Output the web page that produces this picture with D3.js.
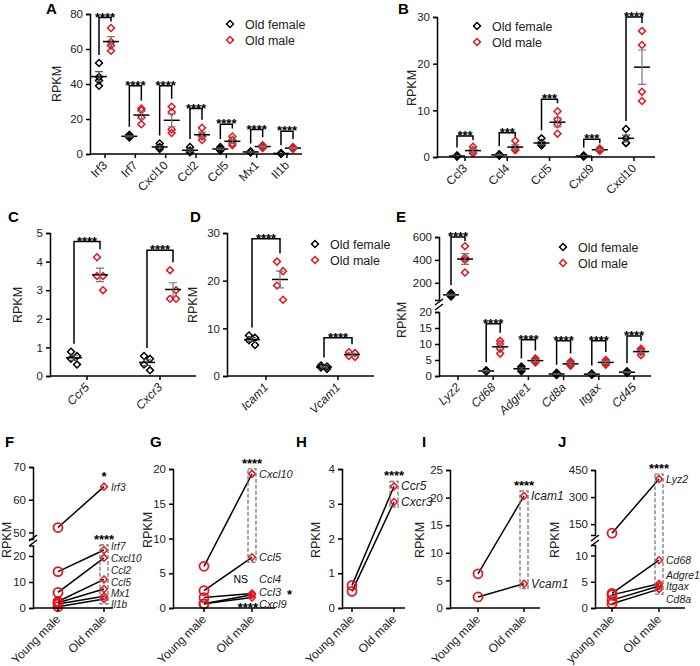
<!DOCTYPE html>
<html><head><meta charset="utf-8">
<script src="https://cdn.jsdelivr.net/npm/d3@7"></script>
<style>body{margin:0;background:#fff}svg{font-family:"Liberation Sans",Arial,sans-serif}</style>
</head><body><svg id="c" width="700" height="666"></svg>
<script>
// ---------- DATA ----------
const A_genes=["Irf3","Irf7","Cxcl10","Ccl2","Ccl5","Mx1","Il1b"];
const A_female=[[52,44,42,39],[11,10,9.5,10],[6,4,3,3],[4,2,1,1.5],[4,3,2.5,2],[1.5,1.2,1,1],[0.5,0.3,0.2,0.3]];
const A_male=[[72,64,62,59],[26,25,21,17],[27,24,14,12],[15,11,10,8],[10,8,6,5],[5,4.5,4,3.5],[4,3.5,3,3]];
const A_top=[78,39,39,26,17,14,13];
const A_stars=["****","****","****","****","****","****","****"];
const A_ticks=[0,20,40,60,80];

const B_genes=["Ccl3","Ccl4","Ccl5","Cxcl9","Cxcl10"];
const B_female=[[0.2,0.3,0.1,0.2],[0.5,0.4,0.3,0.6],[4,3,2.5,2.5],[0.3,0.2,0.2,0.1],[6,4,3,3]];
const B_male=[[2.2,1.5,1,0.8],[3.5,2,1.5,1.5],[9.8,8,7,5],[1.8,1.6,1.5,1.3],[27,24,14,12]];
const B_top=[4.5,5.2,12.4,3.8,30];
const B_stars=["***","***","***","***","****"];
const B_ticks=[0,10,20,30];

const C_genes=["Ccr5","Cxcr3"];
const C_female=[[0.85,0.7,0.6,0.4],[0.7,0.6,0.4,0.2]];
const C_male=[[4.15,3.5,3.5,3.0],[3.7,3.0,2.7,2.7]];
const C_top=[4.7,4.4];
const C_stars=["****","****"];
const C_ticks=[0,1,2,3,4,5];

const D_genes=["Icam1","Vcam1"];
const D_female=[[8.5,8,7.5,6.5],[2.2,2,1.8,1.5]];
const D_male=[[24,22,19,16],[5,4.8,4.2,4]];
const D_top=[28.8,8];
const D_stars=["****","****"];
const D_ticks=[0,10,20,30];

const E_genes=["Lyz2","Cd68","Adgre1","Cd8a","Itgax","Cd45"];
const E_female=[[110,100,90,80],[1.8,1.6,1.5,1.4],[3,2.5,2,1.5],[1,0.7,0.5,0.3],[0.8,0.6,0.5,0.4],[1.5,1.2,1,1]];
const E_male=[[520,420,400,290],[11,10,8.5,7],[5.5,5,4.5,4.2],[4.5,4,3.5,3.2],[5,4.5,4,3.5],[8.5,8,7.5,6.5]];
const E_top=[600,16.3,11.3,11,11,12.5];
const E_stars=["****","****","****","****","****","****"];
const E_ticksLow=[0,5,10,15,20], E_ticksHigh=[200,400,600];

const legendLabels=["Old female","Old male"];
const groups2=["Young male","Old male"], groupsJ=["young male","Old male"];

const F_genes=["Irf3","Irf7","Cxcl10","Ccl2","Ccl5","Mx1","Il1b"];
const F_young=[51.5,14,6,2.5,2,1.5,0.5];
const F_old=[64,22.3,19.3,11,7.3,4.5,3.5];
const F_labelY=[64,23.8,19.3,14.5,10,5.7,1.4];
const F_ticksLow=[0,10,20], F_ticksHigh=[50,60,70];

const G_genes=["Cxcl10","Ccl5","Ccl4","Ccl3","Cxcl9"];
const G_young=[6,2.5,1.5,0.6,0.6];
const G_old=[19.3,7.3,2.1,1.9,1.5];
const G_labelY=[19.3,7.3,4.2,2.3,0.6];
const G_ticks=[0,5,10,15,20];

const H_genes=["Ccr5","Cxcr3"];
const H_young=[0.65,0.48];
const H_old=[3.5,3.05];
const H_ticks=[0,1,2,3,4];

const I_genes=["Icam1","Vcam1"];
const I_young=[6.2,2];
const I_old=[20.3,4.4];
const I_ticks=[0,5,10,15,20,25];

const J_genes=["Lyz2","Cd68","Adgre1","Itgax","Cd8a"];
const J_young=[100,2.8,2.5,1.5,0.8];
const J_old=[400,9.1,4.6,4.2,3.6];
const J_labelY=[400,9.1,6.3,4.1,1.8];
const J_ticksLow=[0,5,10], J_ticksHigh=[150,300,450];

// ---------- DRAW ----------
const svg=d3.select("#c");
const RED="#e3151e";
const diamond=d3.symbol(d3.symbolSquare,24);

function brokenY(lo,hi){
  const sl=d3.scaleLinear().domain(lo.d).range(lo.r);
  if(!hi) return {f:v=>sl(v),sl};
  const sh=d3.scaleLinear().domain(hi.d).range(hi.r);
  return {f:v=>v>=hi.d[0]?sh(v):sl(v),sl,sh};
}
function yAxis(g,x,scale,ticks){
  const a=g.append("g").attr("transform",`translate(${x},0)`)
    .call(d3.axisLeft(scale).tickValues(ticks).tickFormat(d3.format("~g")).tickSizeOuter(0).tickSize(4));
  a.select(".domain").attr("stroke-width",1.5);
  a.selectAll(".tick line").attr("stroke-width",1.5);
  a.selectAll("text").attr("font-size",11.5).attr("fill","#222");
}
function breakMark(g,x,y){
  g.append("path").attr("d",`M${x-4},${y+3}L${x+4},${y-3}M${x-4},${y+8}L${x+4},${y+2}`)
   .attr("stroke","#000").attr("stroke-width",1.5);
}
function xAxis(g,x0,x1,y,xs,labels,italic){
  g.append("line").attr("x1",x0).attr("x2",x1).attr("y1",y).attr("y2",y).attr("stroke","#000").attr("stroke-width",1.5);
  labels.forEach(l=>{
    const x=xs(l);
    g.append("line").attr("x1",x).attr("x2",x).attr("y1",y).attr("y2",y+4).attr("stroke","#000").attr("stroke-width",1.5);
    g.append("text").attr("transform",`translate(${x+3},${y+12}) rotate(-45)`).attr("text-anchor","end")
     .attr("font-size",12).attr("font-style",italic?"italic":"normal").attr("fill","#222").text(l);
  });
}
function ylabel(x,y){svg.append("text").attr("transform",`translate(${x},${y}) rotate(-90)`).attr("text-anchor","middle").attr("font-size",12.5).attr("fill","#222").text("RPKM");}
function letter(t,x,y){svg.append("text").attr("x",x).attr("y",y).attr("font-size",15).attr("font-weight","bold").text(t);}
function drawDiamond(g,x,y,c){g.append("path").attr("d",diamond).attr("transform",`translate(${x},${y}) rotate(45)`).attr("fill","none").attr("stroke",c).attr("stroke-width",1.5);}
function legend(x,y){
  legendLabels.forEach((l,i)=>{
    drawDiamond(svg,x,y+i*16,i?RED:"#000");
    svg.append("text").attr("x",x+15).attr("y",y+i*16+4.5).attr("font-size",12.5).attr("fill","#222").text(l);
  });
}
function meanSem(g,x,vals,y,col){
  const m=d3.mean(vals), s=d3.deviation(vals)/Math.sqrt(vals.length);
  g.append("line").attr("x1",x-8).attr("x2",x+8).attr("y1",y(m)).attr("y2",y(m)).attr("stroke","#000").attr("stroke-width",1.5);
  g.append("path").attr("d",`M${x},${y(m-s)}V${y(m+s)}M${x-4},${y(m-s)}H${x+4}M${x-4},${y(m+s)}H${x+4}`)
   .attr("stroke",col).attr("stroke-width",1.2).attr("fill","none");
}
function dotPanel(c){
  const g=svg.append("g");
  const xs=d3.scalePoint().domain(c.genes).range(c.catRange);
  const y=c.y;
  c.genes.forEach((gn,i)=>{
    const xc=xs(gn), xf=xc-c.off, xm=xc+c.off;
    c.female[i].forEach((v,j)=>drawDiamond(g,xf+(j%2?2:-2)*(c.jit||0),y(v),"#000"));
    c.male[i].forEach((v,j)=>drawDiamond(g,xm+(j%2?2:-2)*(c.jit||0),y(v),RED));
    meanSem(g,xf,c.female[i],y,"#555");
    meanSem(g,xm,c.male[i],y,"#777");
    const yt=y(c.top[i]);
    const lb=Math.max(yt+4,y(d3.max(c.female[i]))-8), rb=Math.max(yt+4,y(d3.max(c.male[i]))-8);
    g.append("path").attr("d",`M${xf},${lb}V${yt}H${xm}V${rb}`).attr("fill","none").attr("stroke","#000").attr("stroke-width",1.5);
    g.append("text").attr("x",(xf+xm)/2).attr("y",yt+4).attr("text-anchor","middle").attr("font-size",13).attr("font-weight","bold").text(c.stars[i]);
  });
  xAxis(g,c.ax,c.axEnd,c.y0,xs,c.genes,c.italic);
}
// A
{const Y=brokenY({d:[0,80],r:[154,14]});
 yAxis(svg,90,Y.sl,A_ticks);
 dotPanel({genes:A_genes,female:A_female,male:A_male,top:A_top,stars:A_stars,catRange:[105,287],off:6,y:Y.f,ax:90,axEnd:302,y0:154});
 legend(230,24);ylabel(61,84);letter("A",46,14);}
// B
{const Y=brokenY({d:[0,30],r:[157,17]});
 yAxis(svg,437,Y.sl,B_ticks);
 dotPanel({genes:B_genes,female:B_female,male:B_male,top:B_top,stars:B_stars,catRange:[465,634],off:8,y:Y.f,ax:437,axEnd:655,y0:157});
 legend(477,26);ylabel(416,88);letter("B",398,14);}
// C
{const Y=brokenY({d:[0,5],r:[376,233]});
 yAxis(svg,50,Y.sl,C_ticks);
 dotPanel({genes:C_genes,female:C_female,male:C_male,top:C_top,stars:C_stars,catRange:[87,160],off:13,jit:1.5,y:Y.f,ax:50,axEnd:196,y0:376,italic:true});
 ylabel(22,305);letter("C",8,222);}
// D
{const Y=brokenY({d:[0,30],r:[376,233]});
 yAxis(svg,227,Y.sl,D_ticks);
 dotPanel({genes:D_genes,female:D_female,male:D_male,top:D_top,stars:D_stars,catRange:[266,338],off:14,jit:1.5,y:Y.f,ax:227,axEnd:374,y0:376,italic:true});
 legend(315,244);ylabel(197,305);letter("D",190,222);}
// E
{const Y=brokenY({d:[0,20],r:[376,312]},{d:[50,600],r:[300,237]});
 yAxis(svg,439,Y.sl,E_ticksLow);yAxis(svg,439,Y.sh,E_ticksHigh);breakMark(svg,439,302);
 dotPanel({genes:E_genes,female:E_female,male:E_male,top:E_top,stars:E_stars,catRange:[458,634],off:7,y:Y.f,ax:439,axEnd:651,y0:376,italic:true});
 legend(563,247);ylabel(406,320);letter("E",396,222);}

// bottom row
function pairPanel(c){
  const g=svg.append("g");
  const xs=d3.scalePoint().domain(c.groups).range(c.gx);
  const y=c.y, xy=xs(c.groups[0]), xo=xs(c.groups[1]);
  c.young.forEach((v,i)=>{
    g.append("line").attr("x1",xy).attr("x2",xo).attr("y1",y(v)).attr("y2",y(c.old[i])).attr("stroke","#000").attr("stroke-width",1.5);
  });
  c.young.forEach(v=>g.append("circle").attr("cx",xy).attr("cy",y(v)).attr("r",4.5).attr("fill","none").attr("stroke",RED).attr("stroke-width",1.8));
  c.old.forEach(v=>drawDiamond(g,xo,y(v),RED));
  const bt=y(c.box[0])-5, bb=y(c.box[1])+5;
  g.append("rect").attr("x",xo-4).attr("y",bt).attr("width",8).attr("height",bb-bt).attr("fill","none").attr("stroke","#777").attr("stroke-width",1.3).attr("stroke-dasharray","4,2");
  g.append("text").attr("x",xo).attr("y",bt-1).attr("text-anchor","middle").attr("font-size",13).attr("font-weight","bold").text("****");
  c.genes.forEach((gn,i)=>g.append("text").attr("x",xo+7).attr("y",y(c.labelY[i])+4).attr("font-size",c.fs||12).attr("font-style","italic").attr("fill","#222").text(gn));
  xAxis(g,c.ax,c.axEnd,608,xs,c.groups,false);
  return {g,xo};
}
// F
{const Y=brokenY({d:[0,24],r:[608,545.6]},{d:[48,70],r:[539,467]});
 yAxis(svg,33,Y.sl,F_ticksLow);yAxis(svg,33,Y.sh,F_ticksHigh);breakMark(svg,33,538);
 const p=pairPanel({genes:F_genes,groups:groups2,gx:[58,104],y:Y.f,young:F_young,old:F_old,labelY:F_labelY,box:[22.3,3.5],ax:33,axEnd:113,fs:10});
 p.g.append("text").attr("x",p.xo).attr("y",Y.f(64)-6).attr("text-anchor","middle").attr("font-size",13).attr("font-weight","bold").text("*");
 ylabel(11,540);letter("F",5,447);}
// G
{const Y=brokenY({d:[0,20],r:[608,469]});
 yAxis(svg,173,Y.sl,G_ticks);
 const p=pairPanel({genes:G_genes,groups:groups2,gx:[204,252],y:Y.f,young:G_young,old:G_old,labelY:G_labelY,box:[19.3,7.3],ax:173,axEnd:275,fs:11});
 p.g.append("text").attr("x",p.xo-4).attr("y",Y.f(4.2)+4).attr("text-anchor","end").attr("font-size",10.5).text("NS");
 p.g.append("text").attr("x",p.xo+35).attr("y",Y.f(2.3)+7).attr("font-size",13).attr("font-weight","bold").text("*");
 p.g.append("text").attr("x",p.xo+6).attr("y",Y.f(0.6)+8).attr("text-anchor","end").attr("font-size",13).attr("font-weight","bold").text("****");
 ylabel(152,530);letter("G",150,447);}
// H
{const Y=brokenY({d:[0,4],r:[608,469]});
 yAxis(svg,342,Y.sl,H_ticks);
 pairPanel({genes:H_genes,groups:groups2,gx:[352,394],y:Y.f,young:H_young,old:H_old,labelY:H_old,box:[3.5,3.05],ax:342,axEnd:405});
 ylabel(320,540);letter("H",296,447);}
// I
{const Y=brokenY({d:[0,25],r:[608,470]});
 yAxis(svg,450,Y.sl,I_ticks);
 pairPanel({genes:I_genes,groups:groups2,gx:[478,524],y:Y.f,young:I_young,old:I_old,labelY:I_old,box:[20.3,4.4],ax:450,axEnd:540});
 ylabel(424,540);letter("I",422,447);}
// J
{const Y=brokenY({d:[0,12],r:[608,545]},{d:[90,450],r:[535,470]});
 yAxis(svg,595,Y.sl,J_ticksLow);yAxis(svg,595,Y.sh,J_ticksHigh);breakMark(svg,595,538);
 pairPanel({genes:J_genes,groups:groupsJ,gx:[612,659],y:Y.f,young:J_young,old:J_old,labelY:J_labelY,box:[400,3.6],ax:595,axEnd:685,fs:10.5});
 ylabel(559,540);letter("J",558,447);}
</script></body></html>
